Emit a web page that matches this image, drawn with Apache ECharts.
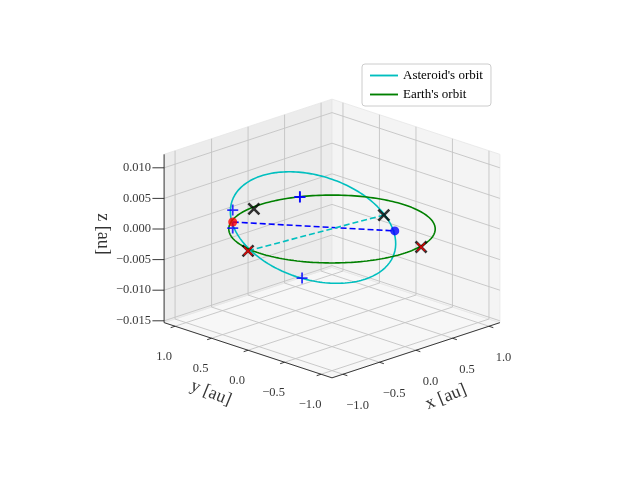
<!DOCTYPE html>
<html><head><meta charset="utf-8">
<script src="https://cdn.jsdelivr.net/npm/echarts@6/dist/echarts.min.js"></script>
<style>html,body{margin:0;background:#fff}#c{width:640px;height:480px}</style>
</head><body><div id="c"></div>
<script>
// axis limits and ticks
var xLim=[-1.15,1.15], yLim=[-1.15,1.15], zLim=[-0.0153,0.0122];
var xTicks=[-1.0,-0.5,0.0,0.5,1.0];
var yTicks=[-1.0,-0.5,0.0,0.5,1.0];
var zTicks=[-0.015,-0.010,-0.005,0.000,0.005,0.010];
var xTickLabels=['−1.0','−0.5','0.0','0.5','1.0'];
var yTickLabels=['−1.0','−0.5','0.0','0.5','1.0'];
var zTickLabels=['−0.015','−0.010','−0.005','0.000','0.005','0.010'];
// orbits: earth circle radius, asteroid ellipse centre + two axes
var earthRadius=1.0;
var asterC=[-0.10,0.16,0], asterA=[0.49,-0.61,0], asterB=[-0.135,0.135,0.0091];
// markers [x,y,z]
var bluePlus=[[0.45,0.89,0],[-0.065,0.375,0.004],[-0.59,-0.18,-0.005],[-0.54,0.82,0.002],[-0.66,0.70,0]];
var blackX=[[-0.37,0.70,0.002],[0.39,-0.32,0.002]];
var redX=[[-1.03,0.12,0],[0.235,-0.985,0]];
var redDot=[[-0.535,0.825,0]];
var blueDot=[[0.39,-0.47,0]];
var blueDash=[[-0.535,0.825,0],[0.39,-0.47,0]];
var cyanDash=[[-1.03,0.12,0],[0.39,-0.32,0.002]];

function P(p){ // 3D -> screen px
  return [332+73*(p[0]-p[1]), 229-24*(p[0]+p[1])-6120*p[2]];
}
var N=200, earth=[], aster=[];
for(var i=0;i<=N;i++){
  var t=2*Math.PI*i/N, c=Math.cos(t), s=Math.sin(t);
  earth.push(P([earthRadius*c,earthRadius*s,0]));
  aster.push(P([asterC[0]+asterA[0]*c+asterB[0]*s,asterC[1]+asterA[1]*c+asterB[1]*s,asterC[2]+asterA[2]*c+asterB[2]*s]));
}
var x0=xLim[0],x1=xLim[1],y0=yLim[0],y1=yLim[1],z0=zLim[0],z1=zLim[1];
var series=[];
// panes
var panes=[
  {pts:[[x0,y0,z0],[x1,y0,z0],[x1,y1,z0],[x0,y1,z0]],c:'#f7f7f7'},
  {pts:[[x0,y1,z0],[x1,y1,z0],[x1,y1,z1],[x0,y1,z1]],c:'#ececec'},
  {pts:[[x1,y0,z0],[x1,y1,z0],[x1,y1,z1],[x1,y0,z1]],c:'#f4f4f4'}
];
series.push({type:'custom',silent:true,z:1,data:[0,1,2],renderItem:function(params,api){
  var pn=panes[params.dataIndex];
  return {type:'polygon',shape:{points:pn.pts.map(function(q){return api.coord(P(q));})},
    style:{fill:pn.c,stroke:'#e6e6e6',lineWidth:0.8}};
}});
function seg(list,color,w,dash,zz){
  var d=[];
  list.forEach(function(l){l.forEach(function(q){d.push(P(q));});d.push([null,null]);});
  series.push({type:'line',data:d,symbol:'none',silent:true,connectNulls:false,
    lineStyle:{color:color,width:w,type:dash||'solid'},z:zz||2});
}
var grid=[];
xTicks.forEach(function(v){grid.push([[v,y0,z0],[v,y1,z0],[v,y1,z1]]);});
yTicks.forEach(function(v){grid.push([[x0,v,z0],[x1,v,z0],[x1,v,z1]]);});
zTicks.forEach(function(v){grid.push([[x0,y1,v],[x1,y1,v],[x1,y0,v]]);});
seg(grid,'#c4c4c4',0.9);
// axis lines + ticks
var ax=[[[x0,y0,z0],[x1,y0,z0]],[[x0,y0,z0],[x0,y1,z0]],[[x0,y1,z0],[x0,y1,z1]]];
xTicks.forEach(function(v){ax.push([[v,y0,z0],[v,y0-0.06,z0]]);});
yTicks.forEach(function(v){ax.push([[x0,v,z0],[x0-0.06,v,z0]]);});
zTicks.forEach(function(v){ax.push([[x0,y1,v],[x0-0.08,y1+0.08,v]]);});
seg(ax,'#222',0.9);
// orbits
series.push({name:"Asteroid's orbit",type:'line',data:aster,symbol:'none',lineStyle:{color:'#00bfbf',width:1.6},itemStyle:{color:'#00bfbf'},z:4});
series.push({name:"Earth's orbit",type:'line',data:earth,symbol:'none',lineStyle:{color:'#008000',width:1.6},itemStyle:{color:'#008000'},z:5});
seg([blueDash],'#0000ff',1.6,[6,3],6);
seg([cyanDash],'#00bfbf',1.6,[6,3],6);
var plus='path://M0,5L10,5M5,0L5,10', cross='path://M0,0L10,10M10,0L0,10';
function sc(pts,sym,size,col,w,zz){
  series.push({type:'scatter',data:pts.map(P),symbol:sym,symbolSize:size,silent:true,z:zz,
    itemStyle:sym.indexOf('path')===0?{color:'none',borderColor:col,borderWidth:w}:{color:col}});
}
sc(bluePlus,plus,11,'#0000ff',1.8,7);
sc(blackX,cross,11,'#000',2.6,7);
sc(redX,cross,11,'#000',2.6,7);
sc(redX,cross,8,'#ff0000',1.6,8);
sc(redDot,'circle',9,'#ff0000',0,8);
sc(blueDot,'circle',9,'#0000ff',0,8);
// tick labels
function labels(pts,texts,off,align,rot){
  series.push({type:'scatter',symbolSize:0,silent:true,z:9,
    data:pts.map(function(q,i){return {value:P(q),label:{formatter:texts[i]}};}),
    label:{show:true,position:'inside',offset:off,align:align||'center',rotate:rot||0,
      fontFamily:'Liberation Serif',fontSize:12.5,color:'#000'}});
}
labels(xTicks.map(function(v){return [v,y0-0.2,z0];}),xTickLabels,[0,27]);
labels(yTicks.map(function(v){return [x0-0.15,v,z0];}),yTickLabels,[0,27]);
labels(zTicks.map(function(v){return [x0,y1,v];}),zTickLabels,[-13,0],'right');
series.push({type:'scatter',symbolSize:0,silent:true,z:9,data:[
  {value:[446,397],label:{formatter:'x [au]',rotate:22}},
  {value:[211,393],label:{formatter:'y [au]',rotate:-22}},
  {value:[103,234],label:{formatter:'z [au]',rotate:-90}}],
  label:{show:true,position:'inside',fontFamily:'Liberation Serif',fontSize:18,color:'#000'}});

var chart=echarts.init(document.getElementById('c'));
chart.setOption({
  animation:false,
  grid:{left:0,right:0,top:0,bottom:0},
  xAxis:{type:'value',min:0,max:640,show:false},
  yAxis:{type:'value',min:0,max:480,inverse:true,show:false},
  legend:{data:[{name:"Asteroid's orbit",itemStyle:{color:'#00bfbf'}},{name:"Earth's orbit",itemStyle:{color:'#008000'}}],
    orient:'vertical',left:362,top:64,
    itemWidth:28,itemHeight:10,itemGap:6,padding:[5,8],borderColor:'#ccc',borderWidth:1,borderRadius:3,
    textStyle:{fontFamily:'Liberation Serif',fontSize:13,color:'#000'},icon:'path://M0,4L30,4L30,6L0,6Z'},
  series:series
});
</script></body></html>
